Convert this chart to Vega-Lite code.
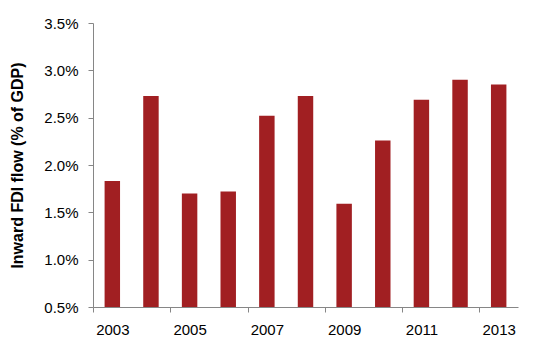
{
  "$schema": "https://vega.github.io/schema/vega-lite/v6.json",
  "width": 425,
  "height": 284,
  "autosize": {"type": "none"},
  "padding": {"left": 93, "top": 23, "right": 23, "bottom": 43},
  "background": "white",
  "config": {
    "view": {"stroke": null},
    "axis": {
      "labelFont": "Liberation Sans",
      "titleFont": "Liberation Sans",
      "labelColor": "#000000",
      "titleColor": "#000000",
      "domainColor": "#868686",
      "tickColor": "#868686",
      "grid": false
    }
  },
  "data": {
    "values": [
      {"year": "2003", "fdi": 0.0183},
      {"year": "2004", "fdi": 0.0273},
      {"year": "2005", "fdi": 0.0170},
      {"year": "2006", "fdi": 0.0172},
      {"year": "2007", "fdi": 0.0252},
      {"year": "2008", "fdi": 0.0273},
      {"year": "2009", "fdi": 0.0159},
      {"year": "2010", "fdi": 0.0226},
      {"year": "2011", "fdi": 0.0269},
      {"year": "2012", "fdi": 0.0290},
      {"year": "2013", "fdi": 0.0285}
    ]
  },
  "mark": {"type": "bar", "color": "#A11F22", "clip": true},
  "encoding": {
    "x": {
      "field": "year",
      "type": "ordinal",
      "scale": {"paddingInner": 0.6, "paddingOuter": 0.3},
      "axis": {
        "title": null,
        "labelAngle": 0,
        "labelFontSize": 15,
        "values": ["2003", "2005", "2007", "2009", "2011", "2013"],
        "tickOffset": -19.32,
        "labelOffset": 19.32,
        "tickSize": 5,
        "labelPadding": 10
      }
    },
    "y": {
      "field": "fdi",
      "type": "quantitative",
      "scale": {"domain": [0.005, 0.035], "zero": false, "nice": false},
      "axis": {
        "title": "Inward FDI flow (% of GDP)",
        "titleFontSize": 16,
        "titleFontWeight": "bold",
        "titlePadding": 18,
        "format": ".1%",
        "values": [0.005, 0.01, 0.015, 0.02, 0.025, 0.03, 0.035],
        "labelFontSize": 15,
        "tickSize": 5,
        "labelPadding": 10
      }
    },
    "y2": {"datum": 0.005}
  }
}
